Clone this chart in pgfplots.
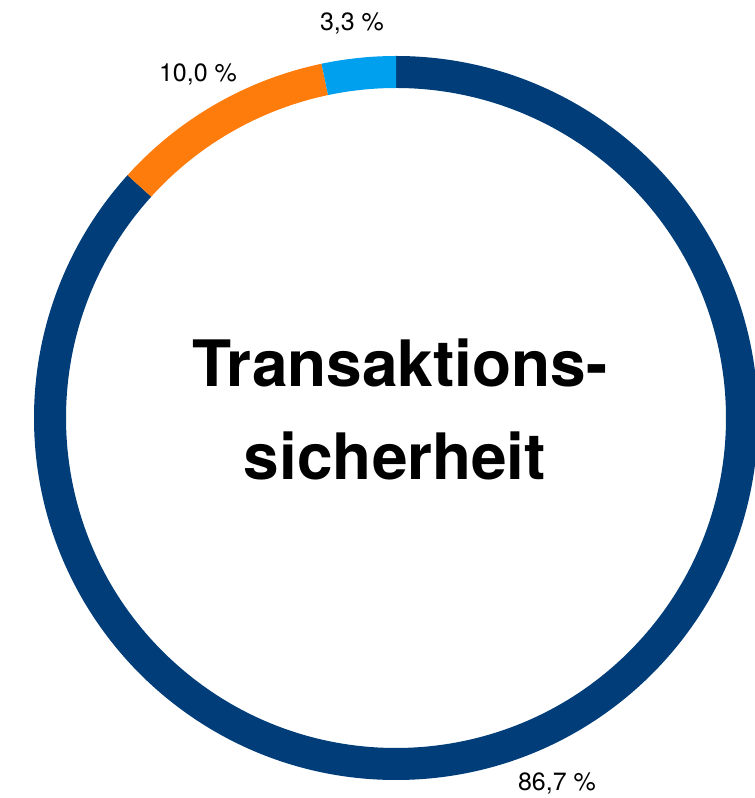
\documentclass[border=0pt]{standalone}
\usepackage{pgfplots}
\pgfplotsset{compat=1.18}
\usepackage{fontspec}
\setmainfont{TeX Gyre Heros}
\definecolor{cDark}{RGB}{0,61,121}
\definecolor{cOrange}{RGB}{254,124,12}
\definecolor{cLight}{RGB}{0,160,238}
% data (percent)
\def\vA{86.7}% dark blue
\def\vB{10.0}% orange
\def\vC{3.3}%  light blue
\def\cx{396}\def\cy{380}
\def\ro{362}\def\ri{330}
\pgfmathsetmacro\aA{90}
\pgfmathsetmacro\aB{90-3.6*\vA}
\pgfmathsetmacro\aC{\aB-3.6*\vB}
\pgfmathsetmacro\aD{\aC-3.6*\vC}
\newcommand{\seg}[3]{%
  \fill[#1] (axis cs:{\cx+\ro*cos(#2)},{\cy+\ro*sin(#2)})
    arc[start angle=#2, end angle=#3, radius=\ro pt]
    -- (axis cs:{\cx+\ri*cos(#3)},{\cy+\ri*sin(#3)})
    arc[start angle=#3, end angle=#2, radius=\ri pt] -- cycle;}
\begin{document}
\begin{tikzpicture}
\begin{axis}[
  width=755pt, height=798pt, scale only axis,
  xmin=0, xmax=755, ymin=0, ymax=798,
  hide axis, clip=true,
]
\seg{cDark}{\aA}{\aB}
\seg{cOrange}{\aB}{\aC}
\seg{cLight}{\aC}{\aD}
\node[anchor=base, inner sep=0pt, font=\fontsize{25}{30}\selectfont] at (axis cs:352,767) {3,3 \%};
\node[anchor=base, inner sep=0pt, font=\fontsize{25}{30}\selectfont] at (axis cs:198,716) {10,0 \%};
\node[anchor=base, inner sep=0pt, font=\fontsize{25}{30}\selectfont] at (axis cs:557,7.5) {86,7 \%};
\node[anchor=base, inner sep=0pt, font=\bfseries\fontsize{64}{76}\selectfont] at (axis cs:400,411) {Transaktions-};
\node[anchor=base, inner sep=0pt, font=\bfseries\fontsize{64}{76}\selectfont] at (axis cs:395,318) {sicherheit};
\end{axis}
\pgfresetboundingbox
\path[use as bounding box] (current axis.south west) rectangle (current axis.north east);
\end{tikzpicture}
\end{document}
